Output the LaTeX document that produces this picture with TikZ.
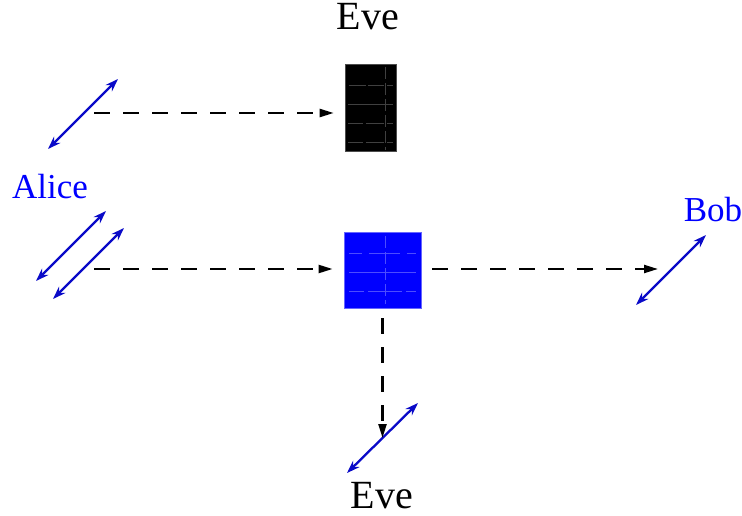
\documentclass[tikz,border=0pt]{standalone}
\usepackage{fontspec}
\setmainfont{Liberation Serif}
\usetikzlibrary{arrows.meta}
\definecolor{pblue}{RGB}{0,0,255}
\definecolor{darrow}{RGB}{10,10,200}
\tikzset{
  pol/.style={draw=darrow, line width=2.3pt, {Stealth[length=13pt,width=9pt]}-{Stealth[length=13pt,width=9pt]}},
  beam/.style={draw=black, line width=2.2pt, dash pattern=on 16pt off 13pt, -{Triangle[length=14pt,width=8pt]}},
  grid/.style={line width=0.5pt},
  lbl/.style={font=\fontsize{35}{40}\selectfont, text=pblue, anchor=base, inner sep=0pt},
  evelbl/.style={font=\fontsize{40}{46}\selectfont, text=black, anchor=base, inner sep=0pt}
}
\begin{document}
\begin{tikzpicture}[x=1pt,y=-1pt]
\useasboundingbox (0,0) rectangle (742,516);
% boxes
\node[fill=black, draw=black!70, line width=0.6pt, minimum width=51pt, minimum height=87pt, inner sep=0pt] (evebox) at (370.5,107.5) {};
\node[fill=pblue, draw=pblue!60, line width=0.8pt, minimum width=77pt, minimum height=76pt, inner sep=0pt] (bsbox) at (382.5,270) {};
% faint grid inside black box
\begin{scope}[grid, draw=black!75!white]
\draw (349,85) -- (366,85) (368,85) -- (384,85) (387,85) -- (393,85);
\draw (348,104) -- (393,104);
\draw (348,123) -- (363,123) (366,123) -- (384,123) (387,123) -- (393,123);
\draw (348,142) -- (363,142) (366,142) -- (384,142) (387,142) -- (393,142);
\draw[dash pattern=on 12pt off 4pt] (385,67) -- (385,150);
\end{scope}
% faint grid inside blue box
\begin{scope}[grid, draw=pblue!70!white]
\draw (349,253) -- (362,253) (369,253) -- (400,253) (407,253) -- (416,253);
\draw (349,272) -- (416,272);
\draw (349,291) -- (364,291) (368,291) -- (402,291) (406,291) -- (416,291);
\draw[dash pattern=on 12pt off 4pt] (385,236) -- (385,304);
\end{scope}
% labels
\node[evelbl] (evetop) at (368,30) {Eve};
\node[evelbl] (evebot) at (382,508) {Eve};
\node[lbl] (alice) at (50,198) {Alice};
\node[lbl] (bob) at (713,222) {Bob};
% polarizer arrows
\coordinate (p1a) at (48,149); \coordinate (p1b) at (118,79);
\coordinate (p2a) at (36,281); \coordinate (p2b) at (106,211);
\coordinate (p3a) at (53,299); \coordinate (p3b) at (124,228);
\coordinate (p4a) at (636,305); \coordinate (p4b) at (706,235);
\coordinate (p5a) at (347,473); \coordinate (p5b) at (418,403);
\draw[pol] (p1a) -- (p1b);
\draw[pol] (p2a) -- (p2b);
\draw[pol] (p3a) -- (p3b);
\draw[pol] (p4a) -- (p4b);
\draw[pol] (p5a) -- (p5b);
% beams
\coordinate (s1) at (94,113);
\coordinate (s2) at (94,269);
\coordinate (e3) at (658,269);
\coordinate (e4) at (382.5,438);
\draw[beam] (s1) -- ([xshift=-11pt]evebox.west |- s1);
\draw[beam] (s2) -- ([xshift=-11pt]bsbox.west |- s2);
\draw[beam] ([xshift=11pt]bsbox.east |- e3) -- (e3);
\draw[beam] ([yshift=-10pt]bsbox.south) -- (e4);
\end{tikzpicture}
\end{document}
